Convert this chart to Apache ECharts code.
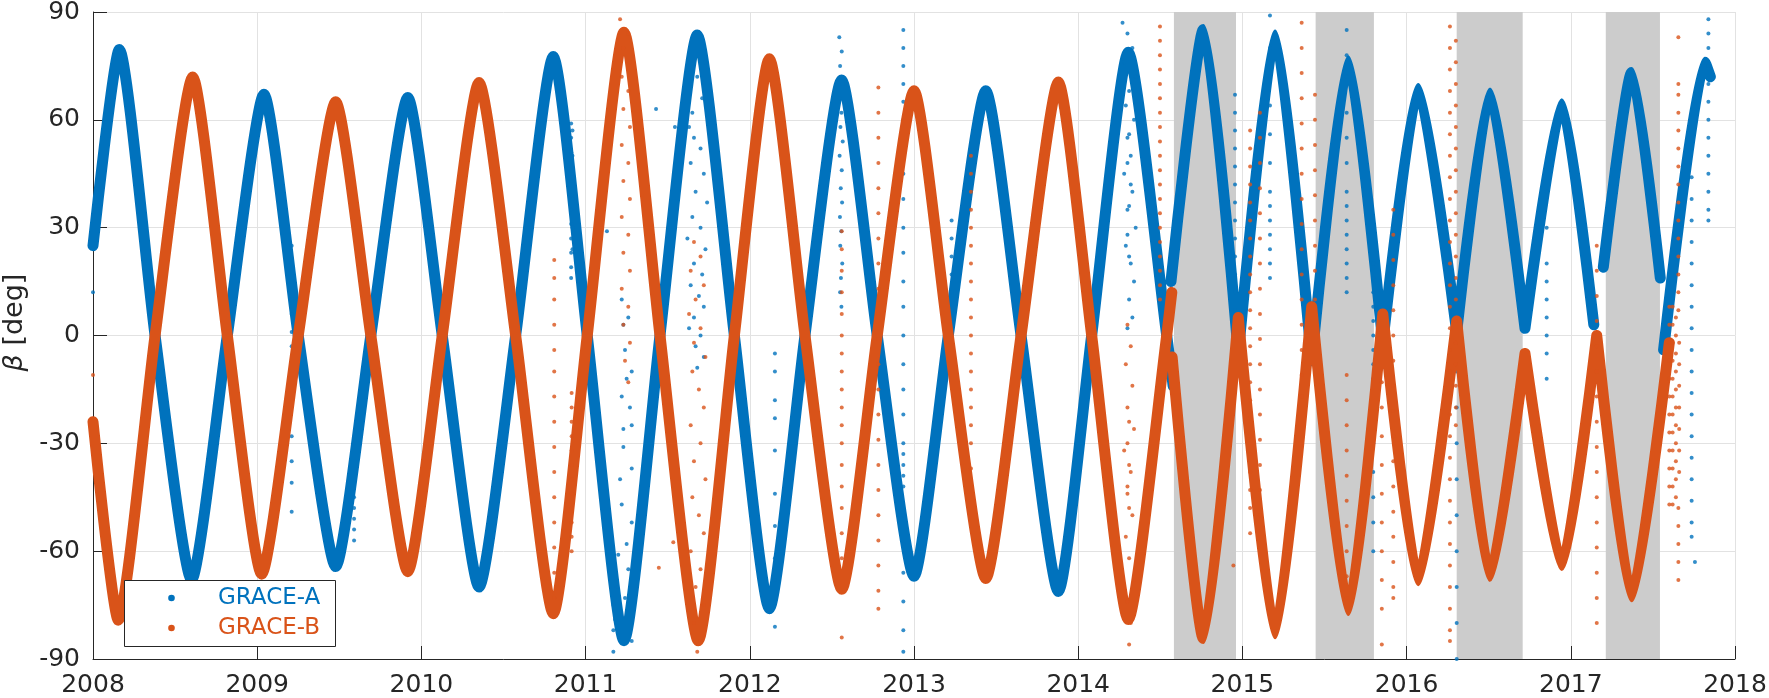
<!DOCTYPE html>
<html><head><meta charset="utf-8">
<script src="https://cdn.jsdelivr.net/npm/echarts@6/dist/echarts.min.js"></script>
<style>html,body{margin:0;padding:0;background:#fff}#c{width:1769px;height:698px}</style>
</head><body><div id="c"></div>
<script>
// ---- tick labels ----
const xTicks = [2008, 2009, 2010, 2011, 2012, 2013, 2014, 2015, 2016, 2017, 2018];
const xTickLabels = ['2008','2009','2010','2011','2012','2013','2014','2015','2016','2017','2018'];
const yTicks = [-90, -60, -30, 0, 30, 60, 90];
const yTickLabels = ['-90','-60','-30','0','30','60','90'];
const legendNames = ['GRACE-A', 'GRACE-B'];

// ---- shaded periods (years) ----
const bandStart = [2014.583, 2015.446, 2016.305, 2017.213];
const bandEnd   = [2014.961, 2015.801, 2016.707, 2017.543];

// ---- GRACE-A main track (extrema / zero points; null = gap) ----
const blueT = [2008.000, 2008.160, 2008.378, 2008.600, 2008.818, 2009.041, 2009.250, 2009.478, 2009.692, 2009.917,
  2010.127, 2010.351, 2010.574, 2010.803, 2011.010, 2011.234, 2011.453, 2011.680, 2011.906, 2012.119,
  2012.336, 2012.559, 2012.776, 2013.000, 2013.209, 2013.437, 2013.652, 2013.879, 2014.082, 2014.305,
  2014.539, 2014.578, null, 2014.565, 2014.762, 2014.975, null, 2014.975, 2015.199, 2015.422, null,
  2015.422, 2015.645, 2015.855, null, 2015.855, 2016.071, 2016.305, null, 2016.305, 2016.508, 2016.721, null,
  2016.721, 2016.945, 2017.140, null, 2017.198, 2017.371, 2017.545, null, 2017.565, 2017.817, 2017.850];
const blueV = [25, 79.6, 0, -68, 0, 67.1, 0, -64.3, 0, 66.2,
  0, -70, 0, 77.6, 0, -84.9, 0, 83.6, 0, -76,
  0, 71.1, 0, -67, 0, 68.1, 0, -71.2, 0, 78.8,
  0, -14, null, 15, 85.1, -5, null, -5, 83.6, -7, null,
  -7, 76.4, -2, null, -2, 68.7, 1, null, 1, 67.5, 2, null,
  2, 64.5, 3, null, 19, 73.2, 16, null, -4, 76, 72];

// ---- GRACE-B main track ----
const orangeT = [2008.000, 2008.154, 2008.378, 2008.607, 2008.818, 2009.027, 2009.250, 2009.478, 2009.692, 2009.917,
  2010.127, 2010.351, 2010.574, 2010.803, 2011.010, 2011.234, 2011.453, 2011.686, 2011.906, 2012.119,
  2012.336, 2012.560, 2012.776, 2013.000, 2013.209, 2013.437, 2013.652, 2013.879, 2014.082, 2014.305,
  2014.539, 2014.570, null, 2014.572, 2014.762, 2014.975, null, 2014.975, 2015.199, 2015.422, null,
  2015.422, 2015.645, 2015.855, null, 2015.855, 2016.071, 2016.305, null, 2016.305, 2016.508, 2016.721, null,
  2016.721, 2016.945, 2017.158, null, 2017.158, 2017.371, 2017.600];
const orangeV = [-24, -79.2, 0, 71.9, 0, -66.4, 0, 65.0, 0, -65.7,
  0, 70.4, 0, -77.4, 0, 84.4, 0, -84.9, 0, 77.0,
  0, -70.6, 0, 68.1, 0, -67.6, 0, 70.5, 0, -79.0,
  0, 12, null, -6, -84.3, 5, null, 5, -83.0, 8, null,
  8, -76.5, 6, null, 6, -68.2, 4, null, 4, -67.0, -5, null,
  -5, -64.0, 0, null, 0, -72.7, -2];

// ---- scattered GRACE-A points ----
const blueOutliers = [
  [2008.0,12],
  [2009.21,25],[2009.21,20],[2009.21,15],[2009.21,10],[2009.21,6],[2009.21,1],[2009.21,-3],[2009.21,-28],[2009.21,-35],[2009.21,-41],[2009.21,-49],
  [2009.59,-45],[2009.59,-48],[2009.59,-51],[2009.59,-54],[2009.59,-57],
  [2010.912,59],[2010.912,55],[2010.912,51],[2010.912,47],[2010.912,43],[2010.912,39],[2010.912,35],[2010.912,31],[2010.912,27],[2010.912,23],[2010.912,19],[2010.912,16],
  [2010.92,57],[2010.92,50],[2010.92,44],[2010.92,38],[2010.92,30],[2010.92,24],
  [2011.13,29],
  [2011.22,10],[2011.23,3],[2011.24,-4],[2011.281,-10],[2011.22,-17],[2011.281,-25],[2011.23,-31],[2011.281,-37],[2011.22,-47],[2011.281,-52],
  [2011.199,-61],[2011.26,-65],[2011.169,-75],[2011.169,-82],[2011.169,-88],[2011.281,-85],[2011.26,5],[2011.27,-20],[2011.21,-40],[2011.25,-58],
  [2011.19,-70],[2011.18,-79],[2011.24,-73],[2011.25,-12],[2011.23,-26],
  [2011.429,63],[2011.544,58],
  [2011.63,58],[2011.66,55],[2011.70,52],[2011.64,48],[2011.72,45],[2011.67,40],[2011.74,37],[2011.65,33],[2011.70,30],[2011.62,27],
  [2011.73,24],[2011.66,20],[2011.71,17],[2011.64,14],[2011.69,11],[2011.72,8],[2011.66,5],[2011.63,2],[2011.70,0],[2011.67,-3],
  [2011.72,-6],[2011.68,-9],[2011.65,62],[2011.71,66],[2011.68,72],[2011.73,76],[2011.64,70],
  [2012.153,-5],[2012.153,-10],[2012.153,-18],[2012.153,-23],[2012.153,-32],[2012.153,-44],[2012.153,-53],[2012.153,-62],[2012.153,-68],[2012.153,-81],
  [2012.545,83],[2012.560,79],[2012.550,75],[2012.565,70],[2012.548,66],[2012.558,62],[2012.552,58],[2012.566,54],[2012.547,50],[2012.560,46],
  [2012.554,41],[2012.562,37],[2012.549,33],[2012.557,29],[2012.551,25],[2012.563,20],[2012.555,16],[2012.550,12],[2012.558,8],
  [2012.935,85],[2012.935,80],[2012.935,75],[2012.935,70],[2012.935,65],[2012.935,60],[2012.935,52],[2012.935,45],[2012.935,38],[2012.935,30],
  [2012.935,23],[2012.935,15],[2012.935,8],[2012.935,0],[2012.935,-8],[2012.935,-15],[2012.935,-22],[2012.935,-30],[2012.935,-33],[2012.935,-36],
  [2012.935,-39],[2012.935,-42],[2012.935,-50],[2012.935,-58],[2012.935,-66],[2012.935,-74],[2012.935,-82],[2012.935,-88],
  [2013.229,32],[2013.229,27],[2013.229,22],[2013.229,17],[2013.229,12],[2013.229,7],
  [2014.27,87],[2014.30,84],[2014.33,80],[2014.28,76],[2014.35,72],[2014.31,68],[2014.29,64],[2014.34,60],[2014.30,55],[2014.32,50],
  [2014.28,45],[2014.33,40],[2014.30,35],[2014.35,30],[2014.29,25],[2014.32,20],[2014.34,15],[2014.31,10],[2014.33,5],[2014.30,2],
  [2014.31,56],[2014.30,48],[2014.32,42],[2014.31,36],[2014.30,28],[2014.31,22],
  [2014.955,67],[2014.955,62],[2014.955,57],[2014.955,52],[2014.955,47],[2014.955,42],[2014.955,37],[2014.955,32],[2014.955,27],[2014.955,22],[2014.955,17],[2014.955,12],[2014.955,7],[2014.955,2],
  [2015.168,89],[2015.168,80],[2015.168,72],[2015.168,64],[2015.168,56],[2015.168,48],[2015.168,40],[2015.168,36],[2015.168,32],[2015.168,28],[2015.168,24],[2015.168,20],[2015.168,16],
  [2015.635,85],[2015.635,78],[2015.635,72],[2015.635,62],[2015.635,55],[2015.635,48],[2015.635,40],[2015.635,36],[2015.635,32],[2015.635,28],[2015.635,24],[2015.635,20],[2015.635,16],[2015.635,12],
  [2015.797,20],[2015.797,16],[2015.797,12],[2015.797,8],[2015.797,4],[2015.797,0],[2015.797,-4],[2015.797,-8],[2015.797,-12],[2015.797,-16],[2015.797,-22],[2015.797,-30],[2015.797,-38],[2015.797,-45],[2015.797,-52],[2015.797,-60],
  [2016.305,10],[2016.305,0],[2016.305,-10],[2016.305,-20],[2016.305,-30],[2016.305,-40],[2016.305,-50],[2016.305,-60],[2016.305,-70],[2016.305,-80],[2016.305,-90],
  [2016.853,40],[2016.853,30],[2016.853,20],[2016.853,15],[2016.853,10],[2016.853,5],[2016.853,0],[2016.853,-5],[2016.853,-12],
  [2017.736,44],[2017.736,38],[2017.736,32],[2017.736,26],[2017.736,20],[2017.736,14],[2017.736,8],[2017.736,2],[2017.736,-4],[2017.736,-10],
  [2017.736,-16],[2017.736,-22],[2017.736,-28],[2017.736,-34],[2017.736,-40],[2017.736,-46],[2017.736,-52],[2017.736,-56],[2017.756,-63],
  [2017.838,88],[2017.838,84],[2017.838,80],[2017.838,75],[2017.838,70],[2017.838,65],[2017.838,60],[2017.838,55],[2017.838,50],[2017.838,45],[2017.838,40],[2017.838,35],[2017.838,32]
];

// ---- scattered GRACE-B points ----
const orangeOutliers = [
  [2008.0,-11],
  [2010.809,21],[2010.809,16],[2010.809,10],[2010.809,3],[2010.809,-4],[2010.809,-10],[2010.809,-17],[2010.809,-24],[2010.809,-31],[2010.809,-38],[2010.809,-45],[2010.809,-52],[2010.809,-59],[2010.809,-66],[2010.809,-73],
  [2010.915,-16],[2010.915,-20],[2010.915,-24],[2010.915,-28],[2010.915,-32],[2010.915,-36],[2010.915,-40],[2010.915,-44],[2010.915,-48],[2010.915,-52],[2010.915,-56],[2010.915,-60],
  [2011.21,88],[2011.26,84],[2011.23,80],[2011.27,76],[2011.22,72],[2011.26,68],[2011.23,63],[2011.27,58],[2011.22,53],[2011.26,48],[2011.23,43],
  [2011.27,38],[2011.22,33],[2011.26,28],[2011.23,23],[2011.27,18],[2011.22,13],[2011.26,8],[2011.23,3],[2011.27,-2],[2011.24,-7],[2011.26,-13],
  [2011.534,-57.5],[2011.446,-64.6],
  [2011.66,26],[2011.70,22],[2011.64,18],[2011.72,14],[2011.67,10],[2011.63,6],[2011.70,2],[2011.66,-2],[2011.73,-6],[2011.65,-10],[2011.69,-15],[2011.72,-20],[2011.64,-25],
  [2011.70,-30],[2011.66,-35],[2011.73,-40],[2011.65,-45],[2011.69,-50],[2011.72,-55],[2011.64,-60],[2011.70,-65],[2011.67,-70],[2011.72,-75],[2011.66,-80],[2011.70,-85],[2011.68,-88],
  [2012.56,29],[2012.56,24],[2012.56,18],[2012.56,12],[2012.56,6],[2012.56,0],[2012.56,-5],[2012.56,-10],[2012.56,-15],[2012.56,-20],[2012.56,-25],[2012.56,-30],[2012.56,-36],[2012.56,-42],[2012.56,-48],[2012.56,-55],[2012.56,-62],[2012.56,-84],
  [2012.783,69],[2012.783,62],[2012.783,55],[2012.783,48],[2012.783,41],[2012.783,34],[2012.783,27],[2012.783,20],[2012.783,13],[2012.783,6],[2012.783,-1],
  [2012.783,-8],[2012.783,-15],[2012.783,-22],[2012.783,-29],[2012.783,-36],[2012.783,-43],[2012.783,-50],[2012.783,-57],[2012.783,-64],[2012.783,-71],[2012.783,-76],
  [2013.347,50],[2013.347,45],[2013.347,40],[2013.347,35],[2013.347,30],[2013.347,25],[2013.347,20],[2013.347,15],[2013.347,10],[2013.347,5],[2013.347,0],
  [2013.347,-5],[2013.347,-10],[2013.347,-15],[2013.347,-20],[2013.347,-25],[2013.347,-30],[2013.347,-37],
  [2014.30,3],[2014.32,-3],[2014.29,-8],[2014.33,-14],[2014.30,-20],[2014.34,-26],[2014.28,-32],[2014.32,-38],[2014.30,-44],[2014.33,-50],[2014.29,-56],
  [2014.31,-62],[2014.34,-68],[2014.30,-74],[2014.32,-80],[2014.31,-86],[2014.31,-24],[2014.30,-30],[2014.31,-36],[2014.30,-42],[2014.31,-48],
  [2014.498,86],[2014.498,82],[2014.498,78],[2014.498,74],[2014.498,70],[2014.498,66],[2014.498,62],[2014.498,58],[2014.498,54],[2014.498,50],
  [2014.498,46],[2014.498,42],[2014.498,38],[2014.498,34],[2014.498,30],[2014.498,26],[2014.498,22],[2014.498,18],[2014.498,14],[2014.498,10],
  [2014.945,-64],
  [2015.047,57],[2015.047,52],[2015.047,47],[2015.047,42],[2015.047,37],[2015.047,32],[2015.047,27],[2015.047,22],[2015.047,17],[2015.047,12],[2015.047,7],[2015.047,2],
  [2015.047,-3],[2015.047,-8],[2015.047,-13],[2015.047,-18],[2015.047,-23],[2015.047,-28],[2015.047,-33],[2015.047,-38],[2015.047,-43],[2015.047,-48],[2015.047,-55],
  [2015.107,62],[2015.107,55],[2015.107,48],[2015.107,41],[2015.107,34],[2015.107,27],[2015.107,20],[2015.107,13],[2015.107,6],[2015.107,-1],
  [2015.107,-8],[2015.107,-15],[2015.107,-22],[2015.107,-29],[2015.107,-36],[2015.107,-43],[2015.107,-50],
  [2015.361,87],[2015.361,80],[2015.361,73],[2015.361,66],[2015.361,59],[2015.361,52],[2015.361,45],[2015.361,38],[2015.361,31],[2015.361,24],
  [2015.361,17],[2015.361,10],[2015.361,3],[2015.361,-4],[2015.361,-11],[2015.361,-17],
  [2015.442,67],[2015.442,60],[2015.442,53],[2015.442,46],[2015.442,39],[2015.442,32],[2015.442,25],[2015.442,18],[2015.442,10],
  [2015.635,-11],[2015.635,-18],[2015.635,-25],[2015.635,-32],[2015.635,-39],[2015.635,-46],[2015.635,-53],[2015.635,-60],[2015.635,-67],[2015.635,-73],
  [2015.849,-13],[2015.849,-20],[2015.849,-28],[2015.849,-36],[2015.849,-44],[2015.849,-52],[2015.849,-60],[2015.849,-68],[2015.849,-76],[2015.849,-86],
  [2015.919,35],[2015.919,28],[2015.919,21],[2015.919,14],[2015.919,7],[2015.919,0],[2015.919,-7],[2015.919,-14],[2015.919,-21],[2015.919,-28],
  [2015.919,-35],[2015.919,-42],[2015.919,-49],[2015.919,-56],[2015.919,-63],[2015.919,-70],[2015.919,-73],
  [2016.264,86],[2016.264,80],[2016.264,74],[2016.264,68],[2016.264,62],[2016.264,56],[2016.264,50],[2016.264,44],[2016.264,38],[2016.264,32],
  [2016.264,26],[2016.264,20],[2016.264,14],[2016.264,8],[2016.264,2],[2016.264,-4],[2016.264,-10],[2016.264,-16],[2016.264,-22],[2016.264,-28],
  [2016.264,-34],[2016.264,-40],[2016.264,-46],[2016.264,-52],[2016.264,-58],[2016.264,-64],[2016.264,-70],[2016.264,-76],[2016.264,-82],[2016.264,-85],
  [2016.300,82],[2016.300,76],[2016.300,70],[2016.300,64],[2016.300,58],[2016.300,52],[2016.300,46],[2016.300,40],[2016.300,34],[2016.300,28],
  [2016.300,22],[2016.300,16],[2016.300,10],[2016.300,4],[2016.300,-2],[2016.300,-8],[2016.300,-14],[2016.300,-20],[2016.300,-25],
  [2017.158,25],[2017.158,18],[2017.158,11],[2017.158,4],[2017.158,-3],[2017.158,-10],[2017.158,-17],[2017.158,-24],[2017.158,-31],[2017.158,-38],
  [2017.158,-45],[2017.158,-52],[2017.158,-59],[2017.158,-66],[2017.158,-73],[2017.158,-80],
  [2017.655,83],[2017.655,70],[2017.655,67],[2017.655,62],[2017.655,57],[2017.655,52],[2017.655,47],[2017.655,42],[2017.655,37],[2017.655,32],
  [2017.655,27],[2017.655,22],[2017.655,17],[2017.655,12],[2017.655,7],[2017.655,-48],[2017.655,-53],[2017.655,-58],[2017.655,-63],[2017.655,-68],
  [2017.60,8],[2017.60,3],[2017.60,-2],[2017.60,-7],[2017.60,-12],[2017.60,-17],[2017.60,-22],[2017.60,-27],[2017.60,-32],[2017.60,-37],[2017.60,-42],[2017.60,-47],
  [2017.62,8],[2017.62,3],[2017.62,-2],[2017.62,-7],[2017.62,-12],[2017.62,-17],[2017.62,-22],[2017.62,-27],[2017.62,-32],[2017.62,-37],[2017.62,-42],[2017.62,-47],
  [2017.64,5],[2017.64,0],[2017.64,-5],[2017.64,-10],[2017.64,-15],[2017.64,-20],[2017.64,-25],[2017.64,-30],[2017.64,-35],[2017.64,-40],[2017.64,-45],
  [2017.66,-2],[2017.66,-8],[2017.66,-14],[2017.66,-20],[2017.66,-26],[2017.66,-32],[2017.66,-38]
];

// ---- build series data ----
function track(T, V) {
  return T.map((t, i) => (V[i] === null ? ['-', '-'] : [t, V[i]]));
}
const BLUE = '#0072BD', ORANGE = '#D95319', INK = '#262626', FONT = 'DejaVu Sans';
const GRID = '#e2e2e2';

const chart = echarts.init(document.getElementById('c'), null, { renderer: 'canvas' });
chart.setOption({
  animation: false,
  backgroundColor: '#ffffff',
  grid: { left: 93, right: 34, top: 12, bottom: 39, containLabel: false, outerBoundsMode: 'none' },
  xAxis: {
    type: 'value', min: 2008, max: 2018, interval: 1,
    axisLine: { show: true, onZero: false, lineStyle: { color: INK, width: 1 } },
    axisTick: { show: true, inside: true, length: 13, lineStyle: { color: INK } },
    axisLabel: {
      fontFamily: FONT, fontSize: 25, color: INK, margin: 14,
      formatter: v => { const i = xTicks.indexOf(Math.round(v)); return i >= 0 ? xTickLabels[i] : ''; }
    },
    splitLine: { show: true, lineStyle: { color: GRID, width: 1 } }
  },
  yAxis: {
    type: 'value', min: -90, max: 90, interval: 30,
    name: '{b|β} [deg]', nameLocation: 'middle', nameGap: 60, nameRotate: 90,
    nameTextStyle: {
      fontFamily: FONT, fontSize: 27, color: INK, padding: [0, 0, 0, 26],
      rich: { b: { fontFamily: FONT, fontSize: 27, fontStyle: 'italic', color: INK } }
    },
    axisLine: { show: true, onZero: false, lineStyle: { color: INK, width: 1 } },
    axisTick: { show: true, inside: true, length: 14, lineStyle: { color: INK } },
    axisLabel: {
      fontFamily: FONT, fontSize: 25, color: INK, margin: 13,
      formatter: v => { const i = yTicks.indexOf(Math.round(v)); return i >= 0 ? yTickLabels[i] : ''; }
    },
    splitLine: { show: true, lineStyle: { color: GRID, width: 1 } }
  },
  graphic: [
    { type: 'rect', z: 100, shape: { x: 124.5, y: 580.5, width: 211, height: 66 },
      style: { fill: '#ffffff', stroke: INK, lineWidth: 1 } },
    { type: 'circle', z: 101, shape: { cx: 171.5, cy: 598, r: 3.3 }, style: { fill: BLUE } },
    { type: 'circle', z: 101, shape: { cx: 171.5, cy: 628, r: 3.3 }, style: { fill: ORANGE } },
    { type: 'text', z: 101, x: 218, y: 598,
      style: { text: legendNames[0], fill: BLUE, fontFamily: FONT, fontSize: 23, verticalAlign: 'middle', align: 'left' } },
    { type: 'text', z: 101, x: 218, y: 628,
      style: { text: legendNames[1], fill: ORANGE, fontFamily: FONT, fontSize: 23, verticalAlign: 'middle', align: 'left' } }
  ],
  series: [
    {
      type: 'custom', name: 'bands', silent: true, z: 1,
      data: bandStart.map((s, i) => [s, bandEnd[i]]),
      encode: { x: [0, 1] },
      renderItem: (params, api) => {
        const p0 = api.coord([api.value(0), 90]);
        const p1 = api.coord([api.value(1), -90]);
        return { type: 'rect', shape: { x: p0[0], y: p0[1], width: p1[0] - p0[0], height: p1[1] - p0[1] },
                 style: { fill: '#cccccc' } };
      }
    },
    {
      type: 'line', name: legendNames[0], z: 3, data: track(blueT, blueV),
      smooth: 0.2, showSymbol: false, connectNulls: false, silent: true,
      itemStyle: { color: BLUE },
      lineStyle: { color: BLUE, width: 11, cap: 'round', join: 'round' }
    },
    {
      type: 'scatter', name: legendNames[0], z: 3, data: blueOutliers,
      symbol: 'circle', symbolSize: 4, silent: true, itemStyle: { color: BLUE }
    },
    {
      type: 'line', name: legendNames[1], z: 4, data: track(orangeT, orangeV),
      smooth: 0.2, showSymbol: false, connectNulls: false, silent: true,
      itemStyle: { color: ORANGE },
      lineStyle: { color: ORANGE, width: 11, cap: 'round', join: 'round' }
    },
    {
      type: 'scatter', name: legendNames[1], z: 4, data: orangeOutliers,
      symbol: 'circle', symbolSize: 4, silent: true, itemStyle: { color: ORANGE }
    }
  ]
});
</script>
</body></html>
